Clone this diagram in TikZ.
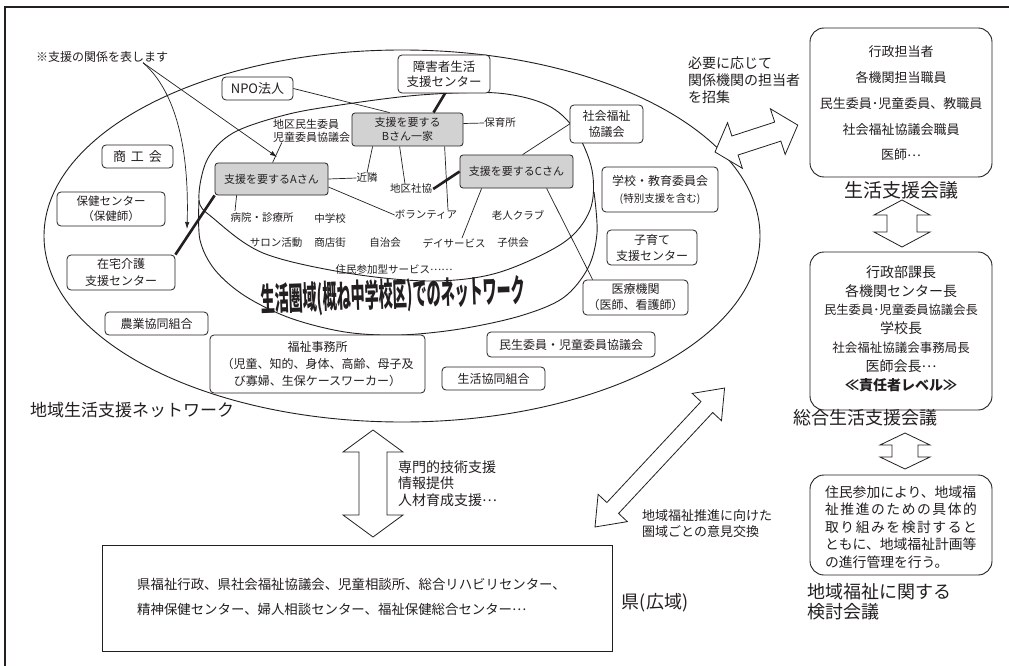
\documentclass[tikz,border=0pt]{standalone}
\usepackage{fontspec}
\setmainfont{Noto Sans CJK JP}
\usepackage{graphicx}
\usetikzlibrary{arrows.meta}
\definecolor{boxgray}{HTML}{D2D2D2}
\definecolor{ink}{HTML}{231F20}
\newcommand\fsz[2]{\fontsize{#1}{#2}\selectfont}
\newcommand\dts{\raisebox{0.3em}{…}}
% hollow double arrow: #1 start tip, #2 angle, #3 length, #4 shaft half width, #5 head half width, #6 head length
\newcommand\dblarr[6]{%
  \begin{scope}[shift={#1}, rotate=#2]
    \draw[arrline] (0,0) -- (#6,#5) -- (#6,#4) -- ({#3-#6},#4) -- ({#3-#6},#5) -- (#3,0)
      -- ({#3-#6},-#5) -- ({#3-#6},-#4) -- (#6,-#4) -- (#6,-#5) -- cycle;
  \end{scope}}
\begin{document}
\begin{tikzpicture}[x=1pt,y=-1pt,
  every node/.style={text=ink},
  box/.style={draw=ink, rounded corners=4pt, fill=white, line width=0.8pt, align=center, inner sep=0pt, font=\fsz{12}{16}},
  gbox/.style={box, fill=boxgray, rounded corners=3pt, font=\fsz{11}{14}},
  bigbox/.style={draw=ink, rounded corners=14pt, line width=0.9pt, inner sep=0pt, fill=white},
  lab/.style={inner sep=0pt, font=\fsz{10.5}{13}},
  ln/.style={draw=ink, line width=0.7pt},
  tk/.style={draw=ink, line width=2.6pt},
  arrline/.style={draw=ink, fill=white, line width=0.8pt, line join=miter},
  tip/.style={-{Latex[length=7pt,width=4.5pt]}},
]
\useasboundingbox (0,0) rectangle (1009,666);
\fill[white] (0,0) rectangle (1009,666);
\draw[line width=1.1pt, draw=ink] (5,666) -- (5,7) -- (1009,7);

% outer ellipse (regional network)
\draw[ln, line width=0.9pt] (402,236) ellipse [x radius=358, y radius=186];

% inner cylinder (living area)
\draw[ln, line width=0.9pt] plot[smooth cycle, tension=0.55] coordinates {
  (199,200) (207,160) (233,133) (285,115) (340,105) (420,95) (497,93) (547,105)
  (575,130) (592,170) (590,210) (563,243) (497,273) (430,281) (347,273) (263,253) (213,218)};
\draw[ln, line width=0.9pt] plot[smooth, tension=0.55] coordinates {
  (199,200) (200,240) (215,270) (245,296) (290,318) (345,332) (400,335) (460,329)
  (520,316) (563,298) (588,268) (597,233) (594,192)};

\node[inner sep=0pt, rotate=2, font=\bfseries\fsz{32}{34}] (title) at (393,296)
  {\scalebox{0.44}[1]{生活圏域(概ね中学校区)でのネットワーク}};

% boxes in outer ring
\node[box, minimum width=71pt, minimum height=23pt, font=\fsz{13}{16}] (npo) at (257.5,88.5) {NPO法人};
\node[box, minimum width=71pt, minimum height=23pt, font=\fsz{13}{16}] (shoko) at (137.5,156.5) {商\hspace{5pt}工\hspace{5pt}会};
\node[box, minimum width=108pt, minimum height=34pt, font=\fsz{11.5}{15}] (hoken) at (111,209) {保健センター\\（保健師）};
\node[box, minimum width=108pt, minimum height=35pt, font=\fsz{12}{17}] (zaitaku) at (121,272.5) {在宅介護\\支援センター};
\node[box, minimum width=103pt, minimum height=23pt] (nokyo) at (156.5,323.5) {農業協同組合};
\node[box, minimum width=215pt, minimum height=58pt, font=\fsz{12}{17}] (jimusho) at (317.5,364) {福祉事務所\\（児童、知的、身体、高齢、母子及\\び寡婦、生保ケースワーカー）};
\node[box, minimum width=103pt, minimum height=23pt] (seikyo) at (493.5,378.5) {生活協同組合};
\node[box, minimum width=168pt, minimum height=25pt] (minsei) at (571,344.5) {民生委員・児童委員協議会};
\node[box, minimum width=105pt, minimum height=35pt, font=\fsz{12}{16}] (iryo) at (635.5,297.5) {医療機関\\（医師、看護師）};
\node[box, minimum width=90pt, minimum height=35pt, font=\fsz{12}{16}] (kosodate) at (652,247.5) {子育て\\支援センター};
\node[box, minimum width=116pt, minimum height=45pt, font=\fsz{12}{17}] (gakko) at (660,189.5) {学校・教育委員会\\{\fsz{10.5}{17}(特別支援を含む)}};
\node[box, minimum width=73pt, minimum height=38pt, font=\fsz{12}{16}] (shakyo) at (606.5,124) {社会福祉\\協議会};
\node[box, minimum width=92pt, minimum height=38pt, font=\fsz{12.5}{15}] (shogai) at (444,74) {障害者生活\\支援センター};

% persons needing support
\node[gbox, minimum width=113pt, minimum height=32pt] (A) at (271.5,179) {支援を要するAさん};
\node[gbox, minimum width=111pt, minimum height=33pt] (B) at (407.5,129.5) {支援を要する\\Bさん一家};
\node[gbox, minimum width=113pt, minimum height=33pt] (C) at (516.5,171.5) {支援を要するCさん};

% labels inside the living area
\node[lab, font=\fsz{11}{12.5}, align=left] (cmin) at (311.5,131) {地区民生委員\\児童委員協議会};
\node[lab] (hosp) at (262,218) {病院・診療所};
\node[lab] (chu) at (330,218) {中学校};
\node[lab] (salon) at (276,243) {サロン活動};
\node[lab] (shoten) at (330,243) {商店街};
\node[lab] (jichi) at (385,243) {自治会};
\node[lab] (day) at (454,243) {デイサービス};
\node[lab] (kodomo) at (513,243) {子供会};
\node[lab] (jumin) at (394,270) {住民参加型サービス\dts\dts};
\node[lab] (rojin) at (518,215) {老人クラブ};
\node[lab] (vol) at (426,215) {ボランティア};
\node[lab] (chikusha) at (411,189) {地区社協};
\node[lab] (kinrin) at (367,178) {近隣};
\node[lab] (hoiku) at (500,123) {保育所};

% connectors
\draw[ln] (npo.east) -- ([xshift=38pt]B.north west);
\draw[ln] ([xshift=9pt]cmin.south west) -- ([xshift=58pt]A.north west);
\draw[ln] (A.east) -- (kinrin.west);
\draw[ln] ([yshift=-8pt]A.east) -- (vol.west);
\draw[ln] ([xshift=22pt]A.south west) -- ([xshift=-27pt,yshift=2pt]hosp.north);
\draw[tk] (A.south west) -- (zaitaku.north east);
\draw[ln] ([yshift=6pt]B.east) -- (hoiku.west);
\draw[ln] ([xshift=21pt]B.south west) -- (kinrin.north);
\draw[ln] ([xshift=48pt]B.south west) -- ([xshift=-6pt]chikusha.north);
\draw[ln] ([xshift=93pt]B.south west) -- ([xshift=22pt]vol.north);
\draw[tk] ([xshift=1pt]shogai.south) -- ([xshift=26pt]B.north);
\draw[tk] ([xshift=1pt]chikusha.east) -- (C.west);
\draw[ln] (shakyo.west) -- ([xshift=63pt]C.north west);
\draw[ln] ([xshift=22pt]C.south west) -- ([xshift=8pt]day.north);
\draw[ln] ([xshift=87pt]C.south west) -- ([xshift=10pt]iryo.north west);

% note and its arrows
\node[lab, font=\fsz{12}{14}] (note) at (102,57) {※支援の関係を表します};
\coordinate (t1) at (187,229);
\coordinate (t2) at (277,157);
\draw[ln, tip] ([xshift=41pt]note.south) .. controls (180,95) and (189,160) .. (t1);
\draw[ln, tip] ([xshift=41pt]note.south) -- (t2);

\node[lab, font=\fsz{17}{20}] (netlabel) at (132,410) {地域生活支援ネットワーク};

% right-hand meetings
\node[bigbox, minimum width=182pt, minimum height=149pt] (kaigi1) at (901,102.5) {};
\node[inner sep=0pt, align=center, font=\fsz{13}{25.75}] (kaigi1t) at (901,103.5)
  {行政担当者\\各機関担当職員\\民生委員･児童委員、教職員\\社会福祉協議会職員\\医師\dts};
\node[lab, font=\fsz{19}{22}] (kaigi1l) at (901,190) {生活支援会議};

\node[bigbox, minimum width=182pt, minimum height=158pt] (kaigi2) at (901,331) {};
\node[inner sep=0pt, align=center, font=\fsz{14}{18.8}] (kaigi2t) at (901,328.5)
  {行政部課長\\各機関センター長\\{\fsz{12.3}{18.8}民生委員･児童委員協議会長}\\学校長\\{\fsz{12.5}{18.8}社会福祉協議会事務局長}\\医師会長\dts\\{\bfseries ≪責任者レベル≫}};
\node[lab, font=\fsz{18}{21}] (kaigi2l) at (865,418) {総合生活支援会議};

\node[bigbox, minimum width=182pt, minimum height=100pt] (kaigi3) at (901,525) {};
\node[inner sep=0pt, align=left, font=\fsz{13.8}{17.5}] (kaigi3t) at (901,527)
  {住民参加により、地域福\\
   \makebox[151.8pt]{祉\hfill 推\hfill 進\hfill の\hfill た\hfill め\hfill の\hfill 具\hfill 体\hfill 的}\\
   \makebox[151.8pt]{取\hfill り\hfill 組\hfill み\hfill を\hfill 検\hfill 討\hfill す\hfill る\hfill と}\\
   ともに、地域福祉計画等\\
   の進行管理を行う。};
\node[lab, font=\fsz{18}{20}, align=left, anchor=west] (kaigi3l) at (807,602) {地域福祉に関する\\検討会議};

\node[lab, font=\fsz{14}{17}, align=left, anchor=west] (shoshu) at (688,80) {必要に応じて\\関係機関の担当者\\を招集};

% prefecture box
\node[draw=ink, line width=0.9pt, minimum width=510pt, minimum height=106pt, inner sep=0pt] (ken) at (357,598) {};
\node[lab, font=\fsz{13.4}{25}, align=left, anchor=west] (kent) at (137,597)
  {県福祉行政、県社会福祉協議会、児童相談所、総合リハビリセンター、\\精神保健センター、婦人相談センター、福祉保健総合センター\dts};
\node[lab, font=\fsz{18}{20}] (kenl) at (655,603) {県(広域)};

\node[lab, font=\fsz{14}{16.5}, align=left, anchor=west] (senmon) at (398,483.5) {専門的技術支援\\情報提供\\人材育成支援\dts};
\node[lab, font=\fsz{13}{16}, align=left, anchor=west] (iken) at (642,524) {地域福祉推進に向けた\\圏域ごとの意見交換};

% hollow double arrows
\dblarr{(715,152)}{18}{87}{10}{24}{21}
\dblarr{(902,200)}{-90}{47}{15}{28}{15}
\dblarr{(905,433)}{-90}{36}{13}{25}{12}
\dblarr{(373,430)}{-90}{107}{14}{30}{22}
\dblarr{(595,527)}{47}{190}{8}{20}{26}
\end{tikzpicture}
\end{document}
